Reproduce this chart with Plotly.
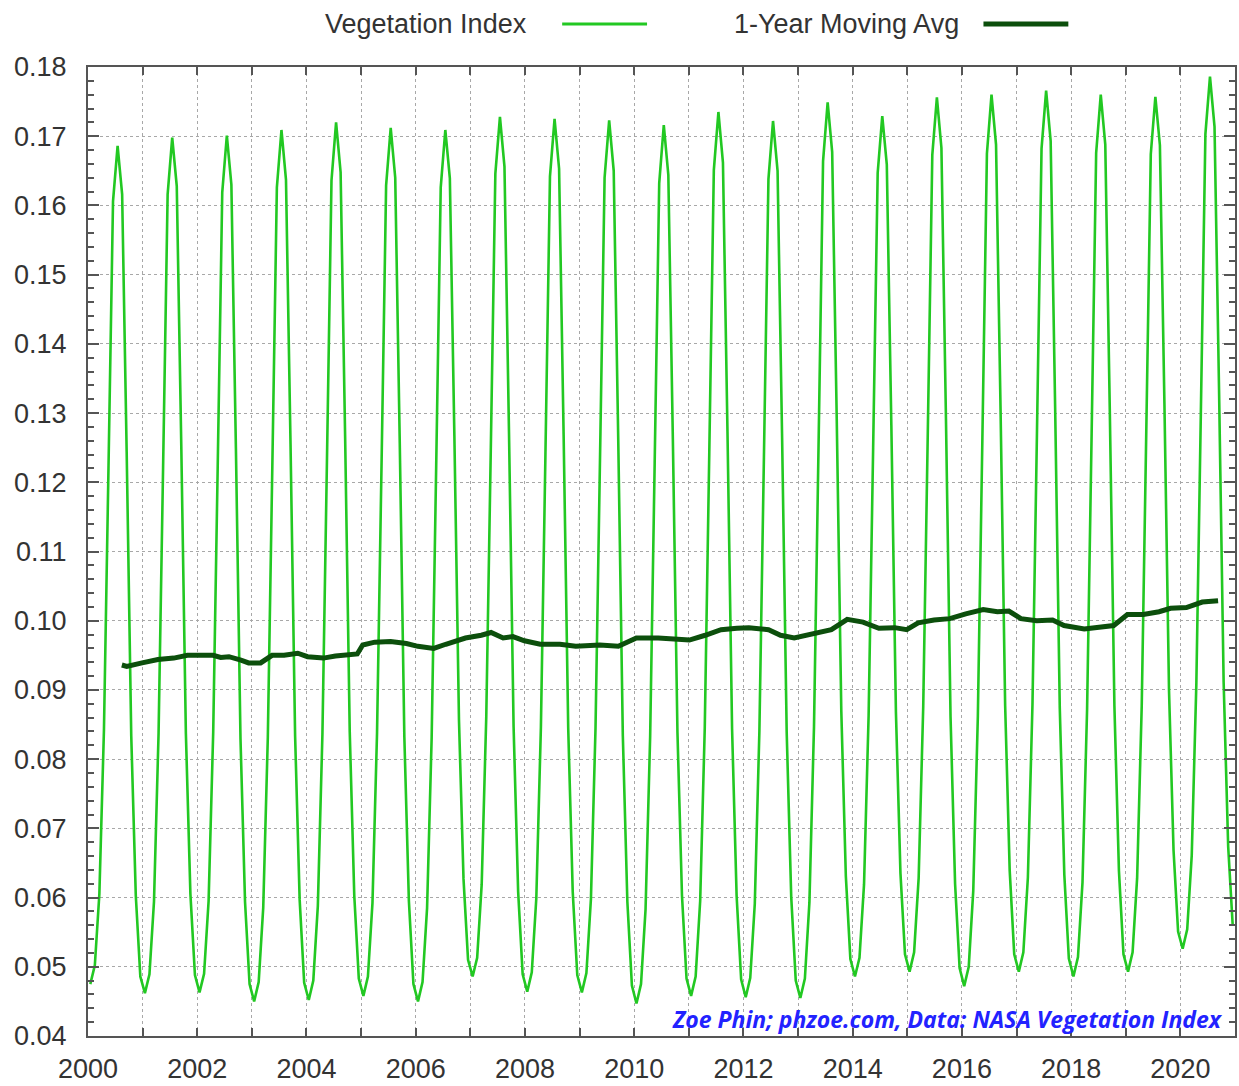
import plotly.graph_objects as go

# ---------------- data ----------------
years = list(range(2000, 2021))
month_mid = [0.042, 0.125, 0.208, 0.292, 0.375, 0.458,
             0.542, 0.625, 0.708, 0.792, 0.875, 0.958]

# monthly vegetation index, one row per year (Jan..Dec)
vegetation_index = [
    [0.0475, 0.0502, 0.0605, 0.0842, 0.1220, 0.1606, 0.1686, 0.1616, 0.1244, 0.0833, 0.0603, 0.0486],  # 2000
    [0.0462, 0.0489, 0.0594, 0.0837, 0.1222, 0.1616, 0.1698, 0.1628, 0.1252, 0.0837, 0.0605, 0.0488],  # 2001
    [0.0463, 0.0490, 0.0595, 0.0838, 0.1224, 0.1619, 0.1701, 0.1630, 0.1249, 0.0829, 0.0594, 0.0475],  # 2002
    [0.0450, 0.0478, 0.0585, 0.0831, 0.1224, 0.1626, 0.1709, 0.1637, 0.1255, 0.0833, 0.0597, 0.0477],  # 2003
    [0.0452, 0.0480, 0.0588, 0.0836, 0.1232, 0.1636, 0.1720, 0.1648, 0.1264, 0.0840, 0.0603, 0.0483],  # 2004
    [0.0458, 0.0486, 0.0592, 0.0838, 0.1229, 0.1629, 0.1712, 0.1640, 0.1256, 0.0832, 0.0595, 0.0475],  # 2005
    [0.0450, 0.0478, 0.0585, 0.0831, 0.1224, 0.1626, 0.1709, 0.1639, 0.1267, 0.0857, 0.0627, 0.0510],  # 2006
    [0.0486, 0.0513, 0.0619, 0.0862, 0.1250, 0.1646, 0.1728, 0.1656, 0.1272, 0.0847, 0.0609, 0.0489],  # 2007
    [0.0464, 0.0492, 0.0599, 0.0846, 0.1240, 0.1642, 0.1725, 0.1653, 0.1269, 0.0845, 0.0608, 0.0488],  # 2008
    [0.0463, 0.0491, 0.0598, 0.0845, 0.1238, 0.1640, 0.1723, 0.1650, 0.1262, 0.0834, 0.0594, 0.0473],  # 2009
    [0.0447, 0.0475, 0.0583, 0.0832, 0.1227, 0.1632, 0.1716, 0.1644, 0.1262, 0.0839, 0.0603, 0.0483],  # 2010
    [0.0458, 0.0486, 0.0595, 0.0845, 0.1243, 0.1651, 0.1735, 0.1662, 0.1273, 0.0844, 0.0603, 0.0482],  # 2011
    [0.0456, 0.0484, 0.0591, 0.0840, 0.1235, 0.1638, 0.1722, 0.1650, 0.1265, 0.0839, 0.0601, 0.0480],  # 2012
    [0.0455, 0.0483, 0.0593, 0.0847, 0.1251, 0.1664, 0.1749, 0.1677, 0.1293, 0.0869, 0.0631, 0.0511],  # 2013
    [0.0486, 0.0513, 0.0619, 0.0863, 0.1250, 0.1647, 0.1729, 0.1659, 0.1283, 0.0868, 0.0635, 0.0518],  # 2014
    [0.0493, 0.0521, 0.0628, 0.0876, 0.1270, 0.1673, 0.1756, 0.1683, 0.1292, 0.0861, 0.0620, 0.0498],  # 2015
    [0.0472, 0.0500, 0.0610, 0.0862, 0.1264, 0.1675, 0.1760, 0.1688, 0.1303, 0.0877, 0.0639, 0.0518],  # 2016
    [0.0493, 0.0521, 0.0629, 0.0879, 0.1276, 0.1682, 0.1766, 0.1693, 0.1304, 0.0874, 0.0633, 0.0512],  # 2017
    [0.0486, 0.0514, 0.0622, 0.0872, 0.1270, 0.1676, 0.1760, 0.1688, 0.1303, 0.0877, 0.0639, 0.0518],  # 2018
    [0.0493, 0.0521, 0.0628, 0.0876, 0.1270, 0.1674, 0.1757, 0.1687, 0.1313, 0.0899, 0.0668, 0.0551],  # 2019
    [0.0526, 0.0554, 0.0661, 0.0908, 0.1301, 0.1703, 0.1786, 0.1714, 0.1333, 0.0911, 0.0674, 0.0560],  # 2020
]

# 1-year moving average (decimal year, value)
ma_x = [2000.62, 2000.71, 2000.99, 2001.28, 2001.57, 2001.82, 2002.00, 2002.29, 2002.43, 2002.58,
        2002.80, 2002.94, 2003.16, 2003.27, 2003.37, 2003.59, 2003.84, 2004.02, 2004.31, 2004.53,
        2004.82, 2004.93, 2005.03, 2005.25, 2005.54, 2005.83, 2006.04, 2006.33, 2006.55, 2006.91,
        2007.20, 2007.38, 2007.60, 2007.78, 2007.99, 2008.28, 2008.64, 2008.93, 2009.37, 2009.71,
        2009.90, 2010.04, 2010.44, 2011.01, 2011.30, 2011.59, 2011.88, 2012.10, 2012.46, 2012.68,
        2012.93, 2013.33, 2013.61, 2013.90, 2014.19, 2014.48, 2014.77, 2014.99, 2015.20, 2015.49,
        2015.78, 2016.07, 2016.39, 2016.65, 2016.86, 2017.08, 2017.37, 2017.66, 2017.87, 2018.24,
        2018.53, 2018.78, 2019.03, 2019.32, 2019.61, 2019.82, 2020.11, 2020.40, 2020.69]
ma_y = [0.0936, 0.0934, 0.0939, 0.0944, 0.0946, 0.0950, 0.0950, 0.0950, 0.0947, 0.0948,
        0.0943, 0.0939, 0.0939, 0.0945, 0.0950, 0.0950, 0.0953, 0.0948, 0.0946, 0.0949,
        0.0950, 0.0952, 0.0965, 0.0969, 0.0970, 0.0967, 0.0963, 0.0960, 0.0966, 0.0975,
        0.0979, 0.0983, 0.0975, 0.0977, 0.0971, 0.0966, 0.0966, 0.0963, 0.0965, 0.0963,
        0.0970, 0.0975, 0.0975, 0.0972, 0.0979, 0.0987, 0.0989, 0.0990, 0.0987, 0.0979,
        0.0975, 0.0981, 0.0987, 0.1002, 0.0998, 0.0989, 0.0990, 0.0987, 0.0997, 0.1001,
        0.1003, 0.1010, 0.1016, 0.1013, 0.1014, 0.1003, 0.1000, 0.1001, 0.0993, 0.0988,
        0.0990, 0.0993, 0.1009, 0.1009, 0.1013, 0.1018, 0.1019, 0.1027, 0.1029]

x_tick_years = list(range(2000, 2022))
x_tick_labels = [str(y) if y % 2 == 0 else "" for y in x_tick_years]

series_names = ["Vegetation Index", "1-Year Moving Avg"]
credit_text = "Zoe Phin; phzoe.com, Data: NASA Vegetation Index"

# ---------------- build ----------------
veg_x, veg_y = [], []
for yr, row in zip(years, vegetation_index):
    for m, v in zip(month_mid, row):
        veg_x.append(yr + m)
        veg_y.append(v)

VEG_COLOR = "#22c822"
MA_COLOR = "#0c4f0c"
FONT = "Liberation Sans, Arial, sans-serif"
TEXT_COLOR = "#333333"

fig = go.Figure()
fig.add_trace(go.Scatter(x=veg_x, y=veg_y, mode="lines", name=series_names[0],
                         line=dict(color=VEG_COLOR, width=2.6), showlegend=False))
fig.add_trace(go.Scatter(x=ma_x, y=ma_y, mode="lines", name=series_names[1],
                         line=dict(color=MA_COLOR, width=5), showlegend=False))

axis_common = dict(showline=True, linecolor="#555555", linewidth=2, mirror="ticks",
                   ticks="inside", tickcolor="#555555", tickwidth=1.5,
                   showgrid=True, gridcolor="#a8a8a8", griddash="dot", gridwidth=1,
                   zeroline=False,
                   tickfont=dict(family=FONT, size=27, color=TEXT_COLOR))

fig.update_xaxes(range=[2000, 2021], tickmode="array", tickvals=x_tick_years,
                 ticktext=x_tick_labels, ticklen=8, ticklabelstandoff=8, **axis_common)
fig.update_yaxes(range=[0.04, 0.18], dtick=0.01, tick0=0.04, tickformat=".2f",
                 ticklen=11, ticklabelstandoff=14,
                 minor=dict(dtick=0.002, ticklen=6, ticks="inside", tickcolor="#555555",
                            showgrid=False),
                 **axis_common)

# legend drawn gnuplot style (label then sample line) in the top margin
leg_y = 1.0443
fig.add_annotation(x=0.3846, y=leg_y, xref="paper", yref="paper", text=series_names[0],
                   showarrow=False, xanchor="right", yanchor="middle",
                   font=dict(family=FONT, size=27, color=TEXT_COLOR))
fig.add_shape(type="line", xref="paper", yref="paper", x0=0.4134, x1=0.4874, y0=leg_y, y1=leg_y,
              line=dict(color=VEG_COLOR, width=3))
fig.add_annotation(x=0.7615, y=leg_y, xref="paper", yref="paper", text=series_names[1],
                   showarrow=False, xanchor="right", yanchor="middle",
                   font=dict(family=FONT, size=27, color=TEXT_COLOR))
fig.add_shape(type="line", xref="paper", yref="paper", x0=0.7807, x1=0.8547, y0=leg_y, y1=leg_y,
              line=dict(color=MA_COLOR, width=5))

fig.add_annotation(x=0.9913, y=0.0175, xref="paper", yref="paper",
                   text=credit_text, showarrow=False,
                   xanchor="right", yanchor="middle",
                   font=dict(family="Open Sans, sans-serif", size=23, color="#2222ff",
                             weight="bold", style="italic"))

fig.update_layout(width=1239, height=1086, margin=dict(l=88, r=2, t=67, b=49),
                  plot_bgcolor="white", paper_bgcolor="white", showlegend=False)

fig.write_html("out.html", config={"displayModeBar": False},
               post_script="document.body.style.margin='0';")
